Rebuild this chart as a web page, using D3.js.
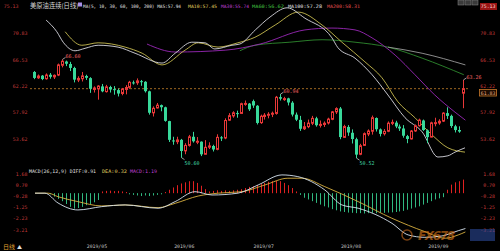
<!DOCTYPE html>
<html>
<head>
<meta charset="utf-8">
<script src="https://cdn.jsdelivr.net/npm/d3@7"></script>
<style>
body { margin: 0; background: #000; }
svg { display: block; }
</style>
</head>
<body>
<div id="chart"></div>
<script>
// daily candles, 2019-04-11 .. 2019-09-16
const dates = [
  "2019-04-11","2019-04-12","2019-04-15","2019-04-16","2019-04-17","2019-04-18","2019-04-22","2019-04-23","2019-04-24","2019-04-25","2019-04-26","2019-04-29","2019-04-30",
  "2019-05-01","2019-05-02","2019-05-03","2019-05-06","2019-05-07","2019-05-08","2019-05-09","2019-05-10","2019-05-13","2019-05-14","2019-05-15","2019-05-16","2019-05-17","2019-05-20","2019-05-21","2019-05-22","2019-05-23","2019-05-24","2019-05-28","2019-05-29","2019-05-30","2019-05-31",
  "2019-06-03","2019-06-04","2019-06-05","2019-06-06","2019-06-07","2019-06-10","2019-06-11","2019-06-12","2019-06-13","2019-06-14","2019-06-17","2019-06-18","2019-06-19","2019-06-20","2019-06-21","2019-06-24","2019-06-25","2019-06-26","2019-06-27","2019-06-28",
  "2019-07-01","2019-07-02","2019-07-03","2019-07-05","2019-07-08","2019-07-09","2019-07-10","2019-07-11","2019-07-12","2019-07-15","2019-07-16","2019-07-17","2019-07-18","2019-07-19","2019-07-22","2019-07-23","2019-07-24","2019-07-25","2019-07-26","2019-07-29","2019-07-30","2019-07-31",
  "2019-08-01","2019-08-02","2019-08-05","2019-08-06","2019-08-07","2019-08-08","2019-08-09","2019-08-12","2019-08-13","2019-08-14","2019-08-15","2019-08-16","2019-08-19","2019-08-20","2019-08-21","2019-08-22","2019-08-23","2019-08-26","2019-08-27","2019-08-28","2019-08-29","2019-08-30",
  "2019-09-03","2019-09-04","2019-09-05","2019-09-06","2019-09-09","2019-09-10","2019-09-11","2019-09-12","2019-09-13","2019-09-16"
];
const opens = [
  64.55,63.60,63.95,63.45,64.10,63.75,64.05,65.65,66.25,65.85,65.20,63.25,63.45,
  63.90,63.55,61.70,61.80,62.20,61.35,62.10,61.75,61.60,61.05,61.70,62.05,62.85,62.80,63.05,62.95,61.40,57.90,58.70,59.15,58.80,56.55,
  53.40,53.20,53.50,51.70,52.60,54.00,53.20,53.20,51.15,52.30,52.50,51.95,53.90,53.80,56.70,57.40,57.85,57.80,59.40,59.40,
  59.80,59.05,56.30,57.30,57.50,57.70,57.80,60.45,60.15,60.25,59.55,57.60,56.75,55.30,55.65,56.20,57.00,55.85,56.00,56.25,56.85,58.05,
  58.60,53.90,55.60,54.65,53.60,51.15,52.60,54.45,54.90,57.05,55.20,54.50,54.90,56.20,56.30,55.65,55.35,54.10,53.65,54.95,55.80,56.65,
  55.05,53.95,56.20,56.25,56.55,57.85,57.40,55.70,55.10,61.10
];
const highs = [
  64.70,64.14,64.05,64.32,64.38,64.15,65.92,66.60,66.40,66.20,65.40,63.85,64.55,
  64.10,63.70,62.20,62.40,62.60,62.45,62.30,62.25,61.85,61.95,62.40,63.10,63.15,63.50,63.25,63.05,61.50,58.95,59.50,59.25,58.90,56.60,
  54.00,54.00,53.65,52.95,54.30,54.80,53.95,53.25,53.45,53.10,52.70,54.40,54.10,57.00,57.85,58.15,58.25,59.55,59.90,59.50,
  60.05,59.15,57.60,57.85,58.00,58.10,60.65,60.94,60.50,60.35,59.80,57.95,57.40,56.40,56.80,57.40,57.25,56.65,56.50,57.10,58.20,58.80,
  58.85,55.95,55.90,55.20,53.85,52.85,54.70,55.20,57.45,57.15,55.35,55.25,56.50,56.80,56.60,56.00,55.90,54.30,55.10,56.00,56.95,56.80,
  55.20,56.45,57.10,56.85,58.00,58.80,57.60,55.95,55.70,63.26
];
const lows = [
  63.38,63.42,63.22,63.30,63.45,63.40,63.88,65.30,65.50,64.70,62.85,62.90,63.00,
  63.25,61.15,61.20,60.04,61.25,61.20,61.20,60.85,60.56,60.75,60.90,61.80,62.50,62.45,62.30,61.20,57.60,57.30,58.60,58.15,56.45,53.15,
  52.70,52.80,50.60,51.15,52.40,53.05,52.80,50.85,51.10,52.00,51.60,51.80,53.30,53.60,56.60,57.10,57.10,57.70,59.05,58.20,
  58.70,56.00,56.10,56.80,57.00,57.20,57.60,59.90,59.85,59.10,57.30,56.55,54.95,55.10,55.40,55.90,55.65,55.50,55.60,56.00,56.70,57.70,
  53.60,53.80,54.15,52.90,50.52,51.00,52.50,54.10,54.35,54.85,54.05,54.20,54.75,55.90,55.40,54.95,53.85,52.95,53.55,54.80,55.65,54.95,
  52.95,53.90,55.70,55.95,56.40,56.90,55.45,54.70,54.65,58.65
];
const closes = [
  63.58,63.89,63.40,64.05,63.76,64.00,65.70,66.30,65.89,65.21,63.30,63.50,63.91,
  63.60,61.81,61.94,62.25,61.40,62.12,61.70,61.66,61.04,61.78,62.02,62.87,62.76,63.10,62.99,61.42,57.91,58.63,59.14,58.81,56.59,53.50,
  53.25,53.48,51.68,52.59,53.99,53.26,53.27,51.14,52.28,52.51,51.93,53.90,53.76,56.65,57.43,57.90,57.83,59.38,59.43,58.47,
  59.09,56.25,57.34,57.51,57.66,57.83,60.43,60.20,60.21,59.58,57.62,56.78,55.30,55.63,56.22,57.00,55.88,56.02,56.20,56.87,58.05,58.58,
  53.95,55.66,54.69,53.63,51.09,52.54,54.50,54.93,57.10,55.23,54.47,54.87,56.21,56.34,55.68,55.35,54.17,53.64,54.93,55.78,56.71,55.10,
  53.94,56.26,56.30,56.52,57.85,57.40,55.75,55.09,54.85,61.83
];
const lastPrice = 61.83;

// overlay lines as [candle index, price]
const ma5Line = [[3,73.0],[5.7,71.1],[7.3,69.4],[10.3,68.0],[12.8,68.4],[16.1,68.9],[21.1,68.6],[25.4,67.6],[32.2,66.0],[35.5,67.6],[39.7,69.4],[43,69.3],[45.5,68.3],[49.8,68.9],[51.8,69.1],[55.7,71.4],[59.4,73.5],[63.7,75.0],[68.2,73.3],[75,70.1],[76.5,68.5],[80.8,66.8],[85.1,64.1],[89.1,60.8],[93.4,57.1],[97.7,54.8],[101.7,50.7],[104.2,50.9],[106,51.5],[108.5,52.2]];
const ma10Line = [[7.8,71.1],[12,68.9],[16.1,69.3],[22.9,68.6],[27.2,67.6],[32.2,65.7],[38,68.1],[41.3,69.3],[46.3,68.6],[51.3,69.3],[55.6,70.2],[60.7,72.2],[66.5,74.3],[72.5,72.2],[77.5,69.4],[83.3,66.2],[87.6,63.6],[91.6,59.7],[95.9,57.1],[100.2,54.3],[104.2,52.2],[108.5,51.5]];
const ma30Line = [[28.4,69.1],[35.5,67.8],[48.1,68.1],[56.9,69.1],[68.2,71.4],[75,71.7],[80.8,71.4],[85.1,70.1],[90.9,67.3],[95.9,64.1],[100.9,60.8],[106,58.0],[108.6,56.7]];
const ma60Line = [[51.8,68.0],[55.6,68.9],[64.4,69.4],[72.5,69.8],[80.8,69.4],[89.1,68.6],[97.7,66.8],[108.2,64.1]];
const ma100Line = [[89.1,68.6],[97.7,67.6],[108.6,65.7]];

// MACD panel, per candle
const macdBars = [
  0,0,0,0,-0.1,-0.3,-0.5,-0.7,-0.95,-1.2,-1.35,-1.3,-1.2,-1.05,-0.95,-0.8,-0.6,0.15,0.2,0.22,0.18,0.2,0.15,0.1,
  -0.1,-0.15,-0.2,-0.25,-0.2,-0.25,-0.2,-0.15,-0.1,0.1,0.3,0.5,0.7,0.85,0.95,1.05,1.05,0.9,0.65,0.35,
  0.15,0.2,0.25,0.2,0.25,0.2,0.25,0.3,0.35,0.45,0.55,0.6,0.7,0.8,0.9,1.0,1.05,1.1,1.05,0.9,0.7,0.45,0.15,
  -0.15,-0.4,-0.55,-0.7,-0.85,-1.0,-1.15,-1.25,-1.4,-1.5,-1.6,-1.65,-1.7,-1.72,-1.75,-1.75,-1.78,-1.75,-1.72,-1.75,-1.7,-1.72,-1.7,-1.68,-1.65,-1.6,-1.55,-1.45,-1.35,-1.25,-1.15,-1.0,-0.85,-0.7,-0.55,-0.45,-0.35,
  0.3,0.75,0.95,1.05,1.19
];
const diffLine = [[0.2,0.0],[2.7,0.0],[6,-0.86],[11,-1.47],[17,-1.18],[22.9,-1.03],[31.2,-1.32],[35.5,-0.74],[40.5,0.13],[44.8,-0.16],[51.3,0.0],[56.4,0.72],[62.4,1.6],[66.4,1.45],[73.2,0.28],[77.5,-1.03],[81.6,-1.32],[90.1,-2.64],[94.2,-3.66],[98.4,-3.87],[102.7,-3.75],[106.8,-3.29],[108.6,-3.1]];
const deaLine = [[0.2,0.0],[3.5,0.0],[6,-0.31],[11,-0.74],[17,-1.12],[22.9,-1.03],[31.2,-1.27],[35.5,-0.89],[41.3,-0.25],[46.3,0.0],[52.3,0.13],[58.1,0.72],[63.9,1.31],[67.5,1.31],[73.2,0.57],[81.6,-0.74],[90.1,-2.2],[98.4,-3.37],[103.5,-3.95],[106.8,-3.66],[108.6,-3.4]];

const priceTicks = ["75.13","70.83","66.53","62.22","57.92","53.62"];
const macdTicks = ["1.68","0.70","-0.28","-1.25","-2.23","-3.21"];
const monthLabels = ["2019/05","2019/06","2019/07","2019/08","2019/09"];

const maTitle = [
  { text: "MA(5, 10, 30, 60, 100, 200) MA5:57.94", color: "#e0e0e0", x: 83, w: 98 },
  { text: "MA10:57.45", color: "#e0d060", x: 188, w: 29 },
  { text: "MA30:55.74", color: "#c040d8", x: 221, w: 28 },
  { text: "MA60:56.62", color: "#40c040", x: 252, w: 32 },
  { text: "MA100:57.28", color: "#e0e0e0", x: 288, w: 34 },
  { text: "MA200:58.31", color: "#e05050", x: 327, w: 33 }
];
const macdTitle = [
  { text: "MACD(26,12,9) DIFF:0.91", color: "#e0e0e0", x: 29, w: 67 },
  { text: "DEA:0.32", color: "#e0d060", x: 102, w: 25 },
  { text: "MACD:1.19", color: "#c040d8", x: 130, w: 27 }
];

const RED = "#e83838", GREEN = "#38d89a", AXIS = "#c83c3c";
const MONO = "'DejaVu Sans Mono', 'Liberation Mono', monospace";
const CJK = "'Noto Sans CJK SC', sans-serif";

const svg = d3.select("#chart").append("svg")
  .attr("width", 500).attr("height", 251)
  .style("background", "#000");

const x = d3.scaleLinear().domain([0, dates.length - 1]).range([34.2, 463]);
const y = d3.scaleLinear().domain([49.32, 75.13]).range([165.5, 7]);
const ym = d3.scaleLinear().domain([-3.21, 1.68]).range([229.8, 174]);
const px = i => Math.round(x(i)) + 0.5;

// last price dashed line
svg.append("line")
  .attr("x1", 30).attr("x2", 470)
  .attr("y1", y(lastPrice)).attr("y2", y(lastPrice))
  .attr("stroke", "#c8822a").attr("stroke-width", 0.8)
  .attr("stroke-dasharray", "2,2");

// moving averages
const line = d3.line().x(d => x(d[0])).y(d => y(d[1])).curve(d3.curveMonotoneX);
const maSeries = [
  { pts: ma60Line, color: "#2f8a2f" },
  { pts: ma100Line, color: "#9a9a9a" },
  { pts: ma30Line, color: "#9a28b8" },
  { pts: ma10Line, color: "#c8bc50" },
  { pts: ma5Line, color: "#d8d8e0" }
];
svg.append("g").selectAll("path").data(maSeries).join("path")
  .attr("d", d => line(d.pts))
  .attr("fill", "none")
  .attr("stroke", d => d.color)
  .attr("stroke-width", 0.9);

// candles
const candles = dates.map((d, i) => ({ i, o: opens[i], h: highs[i], l: lows[i], c: closes[i] }));
const cg = svg.append("g");
cg.selectAll("line").data(candles).join("line")
  .attr("x1", d => px(d.i)).attr("x2", d => px(d.i))
  .attr("y1", d => y(d.h)).attr("y2", d => y(d.l))
  .attr("stroke", d => d.c >= d.o ? RED : GREEN)
  .attr("stroke-width", 1);
cg.selectAll("rect").data(candles).join("rect")
  .attr("x", d => d.c >= d.o ? px(d.i) - 1 : px(d.i) - 1.5)
  .attr("width", d => d.c >= d.o ? 2 : 3)
  .attr("y", d => y(Math.max(d.o, d.c)))
  .attr("height", d => Math.max(1, y(Math.min(d.o, d.c)) - y(Math.max(d.o, d.c))))
  .attr("fill", d => d.c >= d.o ? "#000" : GREEN)
  .attr("stroke", d => d.c >= d.o ? RED : "none")
  .attr("stroke-width", 1);

// extreme labels
const marks = [
  { i: 7, v: highs[7], up: true },
  { i: 37, v: lows[37], up: false },
  { i: 62, v: highs[62], up: true },
  { i: 81, v: lows[81], up: false },
  { i: 108, v: highs[108], up: true }
];
marks.forEach(m => {
  const cx = px(m.i), cy = y(m.v);
  const ty = m.up ? cy - 2 : cy + 3;
  svg.append("line")
    .attr("x1", cx).attr("y1", cy).attr("x2", cx + 3).attr("y2", m.up ? cy - 2 : cy + 2)
    .attr("stroke", "#e0e0e0").attr("stroke-width", 0.7);
  svg.append("text")
    .attr("x", cx + 3).attr("y", m.up ? ty + 1 : ty + 4)
    .attr("font-family", MONO).attr("font-size", 5)
    .attr("fill", m.up ? "#f06060" : "#40d8a8")
    .text(m.v.toFixed(2));
});

// MACD histogram, 1px bars
svg.append("g").selectAll("rect").data(macdBars).join("rect")
  .attr("x", (d, i) => Math.round(x(i)))
  .attr("width", 1)
  .attr("y", d => Math.min(ym(0), ym(d)))
  .attr("height", d => Math.abs(ym(d) - ym(0)))
  .attr("fill", d => d >= 0 ? "#e02020" : "#30b880");

const mline = d3.line().x(d => x(d[0])).y(d => ym(d[1])).curve(d3.curveMonotoneX);
svg.append("path").attr("d", mline(deaLine))
  .attr("fill", "none").attr("stroke", "#d8b040").attr("stroke-width", 0.9);
svg.append("path").attr("d", mline(diffLine))
  .attr("fill", "none").attr("stroke", "#d8e4f0").attr("stroke-width", 0.9);

// axes labels
const axisText = (sel, xx, anchor) => sel
  .attr("x", xx).attr("text-anchor", anchor)
  .attr("font-family", MONO).attr("font-size", 4.9).attr("fill", AXIS);

priceTicks.forEach((t, k) => {
  const yy = y(+t) + 1.8;
  if (k > 0) {
    axisText(svg.append("text"), 27.5, "end").attr("y", yy).text(t);
    axisText(svg.append("text"), 495, "end").attr("y", yy).text(t);
  }
});
axisText(svg.append("text"), 18.5, "end").attr("y", 7.8).text(priceTicks[0]);
svg.append("rect").attr("x", 480).attr("y", 3).attr("width", 17).attr("height", 7).attr("fill", "#9a1414");
svg.append("text").attr("x", 495.5).attr("y", 8.3).attr("text-anchor", "end")
  .attr("font-family", MONO).attr("font-size", 4.9).attr("fill", "#ffd8d8").text(priceTicks[0]);

// current price box
svg.append("rect").attr("x", 479.5).attr("y", 89.5).attr("width", 17).attr("height", 6.5)
  .attr("fill", "#1c0c00").attr("stroke", "#c8782a").attr("stroke-width", 0.8);
svg.append("text").attr("x", 495.5).attr("y", 94.6).attr("text-anchor", "end")
  .attr("font-family", MONO).attr("font-size", 4.9).attr("fill", "#e8a880").text(lastPrice.toFixed(2));

macdTicks.forEach(t => {
  const yy = ym(+t) + 1.8;
  axisText(svg.append("text"), 27.5, "end").attr("y", yy).text(t);
  axisText(svg.append("text"), 495, "end").attr("y", yy).text(t);
});

// month labels at first trading day of each month
monthLabels.forEach(m => {
  const idx = dates.findIndex(d => d.slice(0, 7).replace("-", "/") === m);
  svg.append("text")
    .attr("x", x(idx) + 1).attr("y", 248)
    .attr("font-family", MONO).attr("font-size", 4.8).attr("fill", "#c8c8c8")
    .text(m);
});

// title rows
svg.append("text").attr("x", 30).attr("y", 7.5)
  .attr("font-family", CJK).attr("font-size", 6.3).attr("fill", "#d8d8d8")
  .text("美原油连续(日线)");
svg.append("rect").attr("x", 78).attr("y", 2.5).attr("width", 4).attr("height", 4).attr("fill", "#a890e8");
maTitle.forEach(t => {
  svg.append("text").attr("x", t.x).attr("y", 7.5)
    .attr("font-family", MONO).attr("font-size", 4.6).attr("fill", t.color)
    .attr("textLength", t.w).attr("lengthAdjust", "spacingAndGlyphs").text(t.text);
});
macdTitle.forEach(t => {
  svg.append("text").attr("x", t.x).attr("y", 172.5)
    .attr("font-family", MONO).attr("font-size", 4.8).attr("fill", t.color)
    .attr("textLength", t.w).attr("lengthAdjust", "spacingAndGlyphs").text(t.text);
});

// top right buttons
[458, 465, 472].forEach(bx => {
  svg.append("rect").attr("x", bx).attr("y", 0).attr("width", 6).attr("height", 5)
    .attr("fill", "#3a3a3a").attr("stroke", "#8a8a8a").attr("stroke-width", 0.5);
});

// period tag
svg.append("text").attr("x", 3).attr("y", 248.5)
  .attr("font-family", CJK).attr("font-size", 6).attr("fill", "#e0a030").text("日线");
svg.append("text").attr("x", 17).attr("y", 248.5)
  .attr("font-family", CJK).attr("font-size", 5).attr("fill", "#e0e0e0").text("▲");

// watermark
const wm = svg.append("g").attr("opacity", 0.6);
wm.append("circle").attr("cx", 407).attr("cy", 235).attr("r", 5)
  .attr("fill", "none").attr("stroke", "#d07020").attr("stroke-width", 1.5);
wm.append("text").attr("x", 418).attr("y", 240)
  .attr("font-family", "'DejaVu Sans', sans-serif").attr("font-weight", "bold").attr("font-style", "italic")
  .attr("font-size", 12).attr("textLength", 37).attr("fill", "#e07818").text("FX678");
wm.append("rect").attr("x", 470).attr("y", 229).attr("width", 25).attr("height", 12).attr("fill", "#2c4a9a");
</script>
</body>
</html>
